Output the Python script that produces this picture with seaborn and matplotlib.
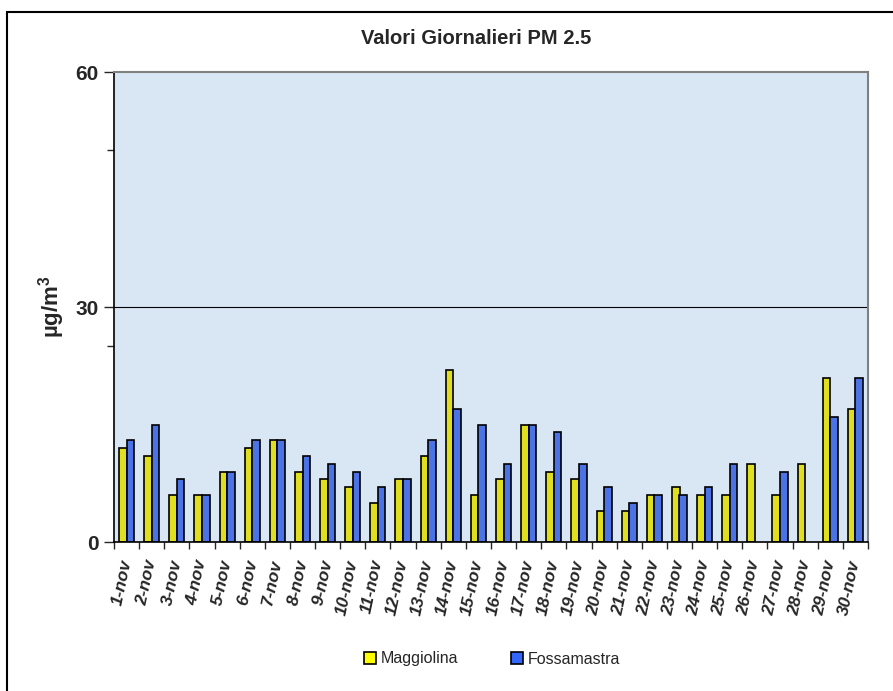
## Daily PM 2.5 values - November

import pandas as pd
import numpy as np
import matplotlib
matplotlib.use("Agg")
import matplotlib.pyplot as plt
from matplotlib.patches import Rectangle, Patch
import seaborn as sns

# Data
days = [f"{d}-nov" for d in range(1, 31)]
maggiolina = [12, 11, 6, 6, 9, 12, 13, 9, 8, 7, 5, 8, 11, 22, 6,
              8, 15, 9, 8, 4, 4, 6, 7, 6, 6, 10, 6, 10, 21, 17]
fossamastra = [13, 15, 8, 6, 9, 13, 13, 11, 10, 9, 7, 8, 13, 17, 15,
               10, 15, 14, 10, 7, 5, 6, 6, 7, 10, np.nan, 9, np.nan, 16, 21]
series_names = ["Maggiolina", "Fossamastra"]
colors = ["#ffff00", "#3366ff"]

df = pd.DataFrame({"Giorno": days, "Maggiolina": maggiolina, "Fossamastra": fossamastra})
df_long = df.melt(id_vars="Giorno", var_name="Stazione", value_name="PM25")

# Style
sns.set_theme(style="white")
plt.rcParams['font.family'] = ['Liberation Sans', 'DejaVu Sans']
plt.rcParams['mathtext.fontset'] = 'custom'
plt.rcParams['mathtext.rm'] = 'Liberation Sans'
plt.rcParams['mathtext.bf'] = 'Liberation Sans:bold'

fig = plt.figure(figsize=(8.93, 6.91), dpi=100)
fig.patch.set_facecolor("white")
ax = fig.add_axes([114/893, 1 - 542/691, (868 - 114)/893, (542 - 72)/691])
ax.set_facecolor("#d9e7f5")

sns.barplot(
    data=df_long, x="Giorno", y="PM25", hue="Stazione",
    hue_order=series_names, palette=colors, order=days,
    width=0.6, edgecolor="black", linewidth=1.2, ax=ax, legend=False
)

ax.set_xlim(-0.5, len(days) - 0.5)
ax.set_ylim(0, 60)
ax.axhline(30, color="black", lw=0.8, zorder=0.5)

# y axis ticks
ax.set_yticks([0, 30, 60])
ax.set_yticks([25, 50], minor=True)
ax.tick_params(axis="y", which="major", direction="out", length=7, width=1,
               pad=4, labelsize=15, left=True)
ax.tick_params(axis="y", which="minor", direction="out", length=5, width=1, left=True)
for lbl in ax.get_yticklabels():
    lbl.set_fontweight("bold")

# x axis ticks at category boundaries
ax.set_xticks(np.arange(len(days)))
ax.set_xticks(np.arange(len(days) + 1) - 0.5, minor=True)
ax.tick_params(axis="x", which="major", length=0, pad=13)
ax.tick_params(axis="x", which="minor", direction="out", length=5, width=1, bottom=True)
ax.set_xticklabels(days, rotation=78, ha="right", va="center",
                   rotation_mode="anchor", fontsize=12.5, fontweight="bold",
                   fontstyle="italic")

for side in ["left", "bottom"]:
    ax.spines[side].set_color("black")
    ax.spines[side].set_linewidth(1.2)
for side in ["top", "right"]:
    ax.spines[side].set_color("#808080")
    ax.spines[side].set_linewidth(1.5)

ax.set_xlabel("")
ax.set_ylabel("")

fig.text(52/893, 1 - 307/691, r"µg/m$^{\mathbf{3}}$", rotation=90,
         ha="center", va="center", fontsize=16, fontweight="bold")
fig.text(476/893, 1 - 38/691, "Valori Giornalieri PM 2.5",
         ha="center", va="center", fontsize=14.5, fontweight="bold")

# Legend
handles = [Patch(facecolor=c, edgecolor="black", linewidth=1.2) for c in colors]
fig.legend(handles, series_names, loc="center", bbox_to_anchor=(0.551, 1 - 659/691),
           ncol=2, frameon=False, fontsize=11.5, handlelength=0.75, handleheight=0.75,
           handletextpad=0.3, columnspacing=3.3)

# Outer chart border (cut by the image edge on right/bottom)
fig.patches.append(Rectangle((7/893, -0.1), 1.2, 1 - 12/691 + 0.1,
                             transform=fig.transFigure, fill=False,
                             edgecolor="black", linewidth=1.5))

plt.savefig("out.png", dpi=100)
plt.close()
